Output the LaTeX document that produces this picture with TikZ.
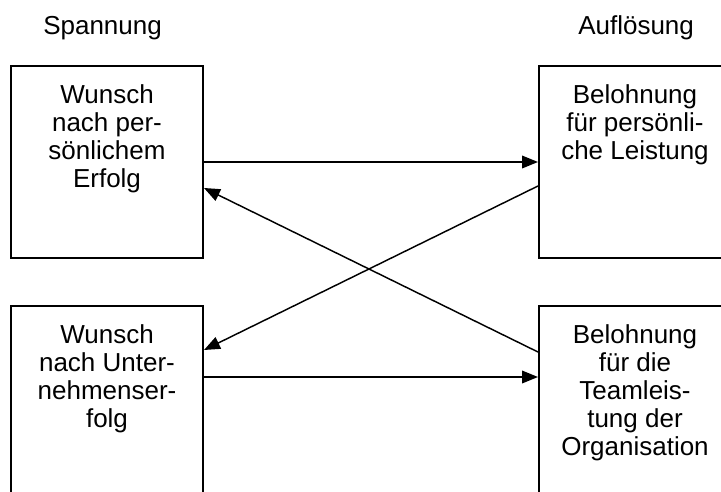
\documentclass[tikz,border=0pt]{standalone}
\usepackage{fontspec}
\setmainfont{Liberation Sans}
\usetikzlibrary{arrows.meta}
\begin{document}
\begin{tikzpicture}[x=0.75pt,y=-0.75pt,
  box/.style={draw,line width=1.5pt,rectangle,minimum width=144pt,minimum height=144pt,inner sep=0pt},
  txt/.style={anchor=north,align=center,inner sep=0pt,font=\fontsize{19.5}{21}\selectfont},
  head/.style={anchor=base west,inner sep=0pt,font=\fontsize{19.5}{21}\selectfont},
  arr/.style={line width=1.1pt,-{Triangle[length=12pt,width=9.5pt]}}]
\useasboundingbox (0,0) rectangle (721,492);
\clip (0,0) rectangle (721,492);
\fill[white] (0,0) rectangle (721,492);
\node[head] (h1) at (43,35) {Spannung};
\node[head] (h2) at (578,35) {Auflösung};
\node[box] (b1) at (107,162) {};
\node[box] (b2) at (635,162) {};
\node[box] (b3) at (107,402) {};
\node[box] (b4) at (635,402) {};
\node[txt] (t1) at (107,84) {Wunsch\\nach per-\\sönlichem\\Erfolg};
\node[txt] (t2) at (635,84) {Belohnung\\für persönli-\\che Leistung};
\node[txt] (t3) at (107,324) {Wunsch\\nach Unter-\\nehmenser-\\folg};
\node[txt] (t4) at (635,324) {Belohnung\\für die\\Teamleis-\\tung der\\Organisation};
\draw[arr] (b1.east) -- (b2.west);
\draw[arr] ([yshift=-54pt]b3.north east) -- ([yshift=-54pt]b4.north west);
\draw[arr] ([yshift=-18pt]b2.west) -- ([yshift=-33.75pt]b3.north east);
\draw[arr] ([yshift=-35.25pt]b4.north west) -- ([yshift=-19.5pt]b1.east);
\end{tikzpicture}
\end{document}
